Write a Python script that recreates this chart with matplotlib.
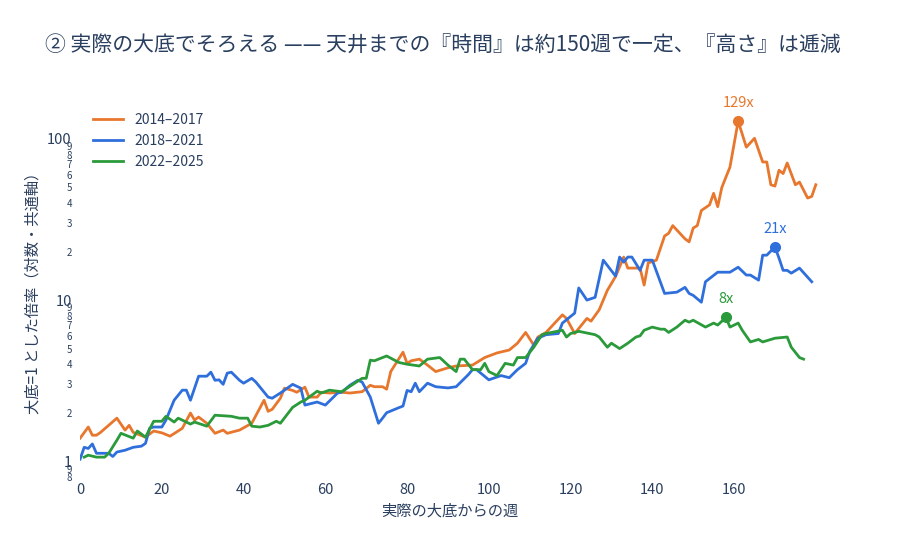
import math
import matplotlib
matplotlib.use("Agg")
import matplotlib.pyplot as plt
from matplotlib.ticker import FixedLocator

plt.rcParams['font.family'] = ['Noto Sans CJK JP', 'DejaVu Sans']

title = "② 実際の大底でそろえる —— 天井までの『時間』は約150週で一定、『高さ』は逓減"
xlabel = "実際の大底からの週"
ylabel = "大底=1 とした倍率（対数・共通軸）"

labels = ["2014–2017", "2018–2021", "2022–2025"]
colors = ["#e8772e", "#2f6fdc", "#2a9a3a"]

w_2014 = [0, 2, 3, 4, 5, 9, 11, 12, 13, 16, 18, 20, 22, 25, 27, 28, 29, 31, 33, 35, 36, 39, 42, 45, 46, 47, 49, 50, 52, 53,
          55, 56, 58, 59, 61, 64, 66, 69, 71, 72, 74, 75, 76, 79, 80, 81, 83, 85, 87, 90, 92, 96, 99, 102, 105, 107, 109, 111,
          112, 114, 118, 119, 121, 124, 125, 127, 129, 131, 133, 134, 137, 138, 139, 141, 143, 144, 145, 148, 149, 150, 151,
          152, 154, 155, 156, 157, 159, 161, 163, 165, 167, 168, 169, 170, 171, 172, 173, 175, 176, 178, 179, 180]
v_2014 = [1.39, 1.63, 1.45, 1.45, 1.51, 1.85, 1.56, 1.67, 1.51, 1.41, 1.54, 1.5, 1.43, 1.6, 1.99, 1.8, 1.88, 1.72, 1.49, 1.56,
          1.49, 1.56, 1.72, 2.39, 2.04, 2.1, 2.46, 2.84, 2.75, 2.68, 2.88, 2.5, 2.5, 2.68, 2.65, 2.68, 2.65, 2.7, 2.96, 2.9,
          2.9, 2.8, 3.6, 4.75, 4.05, 4.2, 4.3, 3.95, 3.6, 3.8, 3.9, 3.95, 4.4, 4.7, 4.9, 5.4, 6.3, 5.25, 5.9, 6.3, 8.1, 7.7,
          6.2, 7.7, 7.4, 8.7, 11.5, 14, 18.5, 15.8, 15.8, 12.4, 17, 17.7, 25, 26, 29, 24, 23, 28, 29, 36, 39, 46, 38, 50, 67,
          129, 89, 101, 72, 72, 52, 51, 64, 61, 71, 52, 54, 43, 44, 52]
n = min(len(w_2014), len(v_2014))
w_2014, v_2014 = w_2014[:n], v_2014[:n]

w_2018 = [0, 1, 2, 3, 4, 7, 8, 9, 11, 13, 15, 16, 17, 18, 20, 21, 23, 25, 26, 27, 29, 31, 32, 33, 34, 35, 36, 37, 39, 40,
          42, 43, 46, 47, 49, 52, 54, 55, 58, 60, 63, 64, 66, 68, 69, 71, 73, 74, 75, 78, 79, 80, 81, 82, 83, 85, 87, 90,
          92, 95, 96, 97, 100, 103, 105, 107, 109, 110, 112, 114, 117, 118, 121, 122, 124, 126, 128, 131, 132, 133, 134,
          135, 137, 138, 140, 143, 146, 148, 149, 150, 152, 153, 156, 159, 161, 163, 164, 166, 167, 168, 170, 171, 172,
          173, 174, 176, 179]
v_2018 = [1.03, 1.22, 1.2, 1.28, 1.12, 1.12, 1.07, 1.14, 1.17, 1.22, 1.24, 1.29, 1.6, 1.63, 1.63, 1.8, 2.39, 2.76, 2.76,
          2.39, 3.37, 3.37, 3.57, 3.18, 3.2, 3.0, 3.52, 3.57, 3.18, 3.05, 3.27, 3.1, 2.5, 2.46, 2.65, 3.0, 2.84, 2.23,
          2.33, 2.23, 2.65, 2.68, 2.96, 3.18, 3.1, 2.5, 1.72, 1.85, 2.0, 2.15, 2.2, 2.75, 2.7, 3.05, 2.7, 3.05, 2.9, 2.85,
          2.9, 3.45, 3.7, 3.7, 3.2, 3.4, 3.3, 3.7, 4.05, 4.8, 5.8, 6.1, 6.2, 7.2, 8.3, 11.9, 10, 10.4, 17.7, 14.1, 18.5,
          17.2, 18.5, 18.5, 15.3, 17.7, 17.7, 11, 11.2, 12, 11, 10.7, 9.7, 13, 14.9, 14.9, 16, 14.3, 14.3, 13.3, 19, 19,
          21.4, 18.2, 15.3, 15.3, 14.7, 15.8, 13, 13.3, 11.2, 13, 13, 11.9, 11.9]
n = min(len(w_2018), len(v_2018))
w_2018, v_2018 = w_2018[:n], v_2018[:n]

w_2022 = [1, 2, 4, 6, 7, 9, 10, 13, 14, 16, 18, 20, 21, 23, 24, 27, 28, 31, 33, 37, 39, 41, 42, 44, 46, 48, 49, 52, 54, 55,
          58, 59, 61, 64, 69, 70, 71, 72, 73, 75, 78, 80, 83, 85, 88, 90, 92, 93, 94, 96, 98, 99, 100, 102, 104, 106, 107,
          109, 111, 113, 114, 118, 119, 120, 122, 126, 127, 129, 130, 132, 134, 136, 137, 138, 140, 142, 143, 144, 146, 148,
          149, 150, 153, 155, 156, 158, 159, 161, 162, 164, 166, 167, 170, 173, 174, 176, 177, 178, 180]
v_2022 = [1.06, 1.09, 1.06, 1.06, 1.12, 1.35, 1.49, 1.39, 1.54, 1.41, 1.77, 1.77, 1.9, 1.75, 1.85, 1.7, 1.75, 1.65, 1.93,
          1.9, 1.85, 1.85, 1.65, 1.63, 1.67, 1.77, 1.72, 2.16, 2.33, 2.39, 2.72, 2.65, 2.76, 2.7, 3.27, 3.27, 4.24, 4.2,
          4.3, 4.5, 4.1, 4.0, 3.9, 4.3, 4.4, 3.95, 3.6, 4.3, 4.3, 3.7, 3.7, 4.05, 3.6, 3.4, 4.05, 3.95, 4.4, 4.4, 5.1, 6.1,
          6.2, 6.5, 5.9, 6.2, 6.4, 6.1, 5.9, 5.1, 5.4, 5.0, 5.4, 5.9, 6.0, 6.5, 6.8, 6.6, 6.6, 6.3, 6.8, 7.5, 7.3, 7.5,
          6.8, 7.2, 7.0, 7.8, 6.8, 7.2, 6.5, 5.5, 5.7, 5.5, 5.8, 5.9, 5.1, 4.4, 4.3]
n = min(len(w_2022), len(v_2022))
w_2022, v_2022 = w_2022[:n], v_2022[:n]

series = [(w_2014, v_2014), (w_2018, v_2018), (w_2022, v_2022)]

fig = plt.figure(figsize=(9, 5.6), dpi=100)
ax = fig.add_axes([0.089, 0.146, 0.822, 0.675])

for (w, v), lab, c in zip(series, labels, colors):
    ax.plot(w, v, color=c, lw=2, label=lab)
    i = max(range(len(v)), key=lambda k: v[k])
    ax.plot([w[i]], [v[i]], 'o', color=c, ms=7)
    ax.annotate(f"{round(v[i])}x", (w[i], v[i]), xytext=(0, 8), textcoords='offset points',
                ha='center', va='bottom', color=c, fontsize=10.5)

ax.set_yscale('log')
ax.set_xlim(0, 181)
ax.set_ylim(0.784, 174)
ax.set_xticks([0, 20, 40, 60, 80, 100, 120, 140, 160])
major = [1, 10, 100]
minor = [m * d for d in (0.1, 1, 10) for m in range(2, 10) if 0.784 <= m * d <= 174]
ax.yaxis.set_major_locator(FixedLocator(major))
ax.set_yticklabels(["1", "10", "100"])


def lead_digit(x):
    return str(int(round(x / 10 ** math.floor(math.log10(x)))))


ax.yaxis.set_minor_locator(FixedLocator(minor))
ax.set_yticklabels([lead_digit(m) for m in minor], minor=True)
ax.tick_params(axis='y', which='minor', labelsize=7, length=0, pad=6, labelcolor='#2a3f5f')
ax.tick_params(axis='y', which='major', labelsize=10.5, length=0, pad=6, labelcolor='#2a3f5f')
ax.tick_params(axis='x', labelsize=10.5, length=0, labelcolor='#2a3f5f')
for s in ax.spines.values():
    s.set_visible(False)

ax.set_xlabel(xlabel, fontsize=11, color='#2a3f5f')
ax.set_ylabel(ylabel, fontsize=11, color='#2a3f5f')
fig.text(0.05, 0.92, title, fontsize=15, color='#2a3f5f', va='center')

ax.legend(loc='upper left', bbox_to_anchor=(0.0, 1.0), frameon=False, fontsize=10,
          handlelength=2.2, labelcolor='#2a3f5f')

fig.savefig("out.png", dpi=100)
